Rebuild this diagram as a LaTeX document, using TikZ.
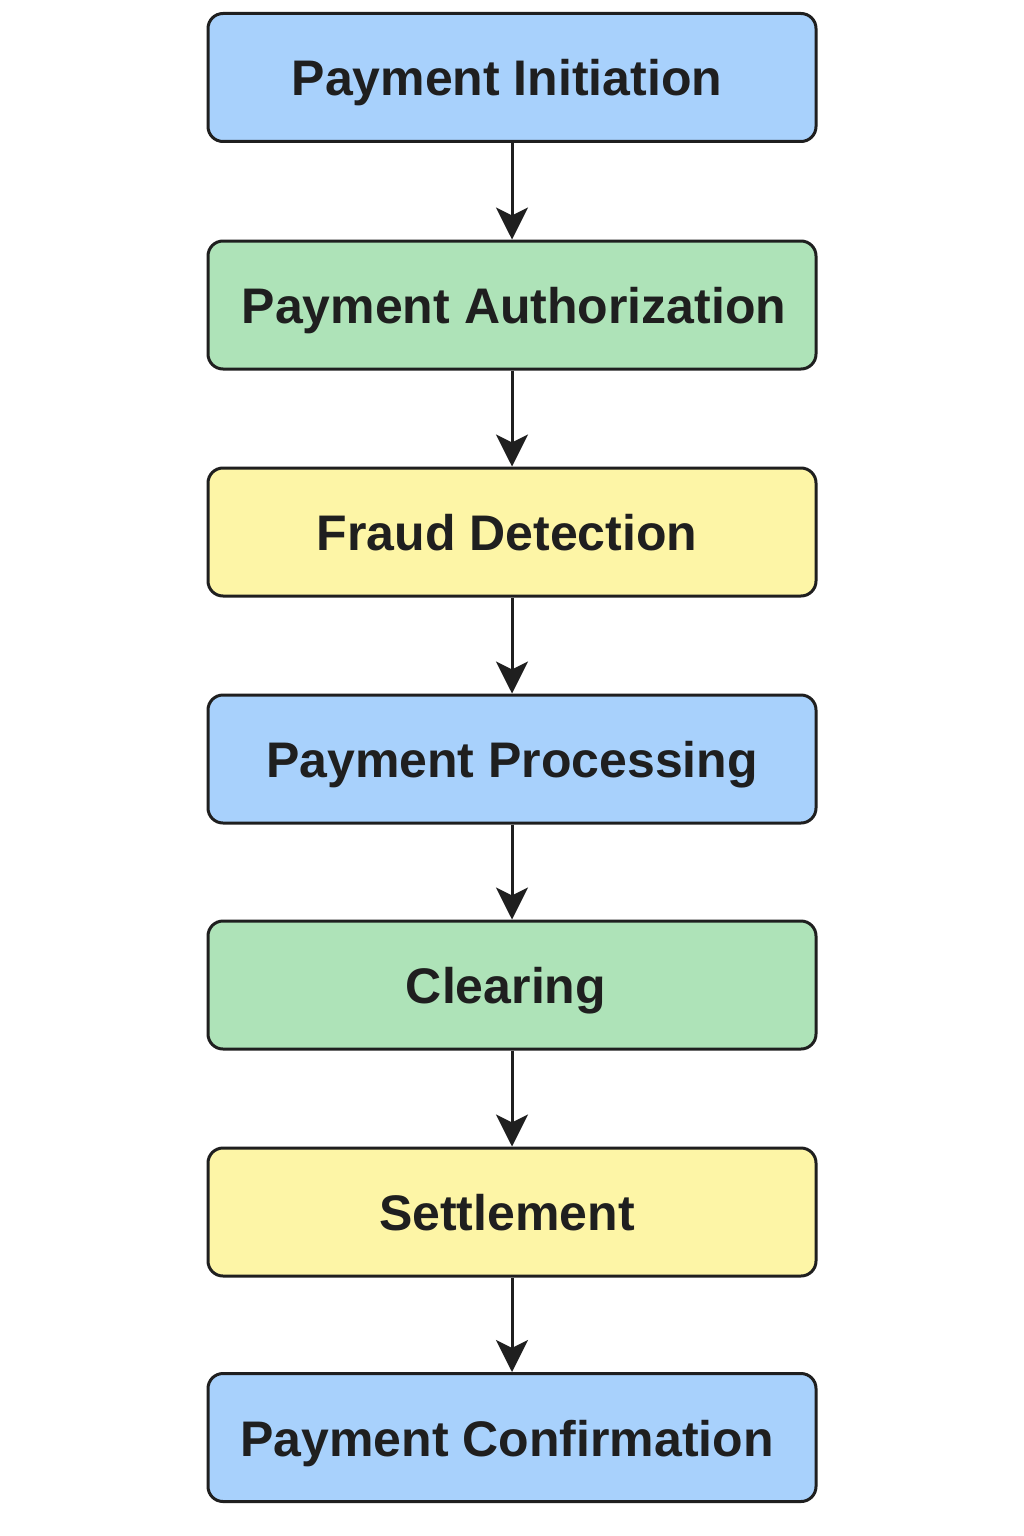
\documentclass[tikz,border=0pt]{standalone}
\usepackage{fontspec}
\setmainfont{Liberation Sans}
\usetikzlibrary{arrows.meta}
\definecolor{bluefill}{HTML}{A8D1FC}
\definecolor{greenfill}{HTML}{AEE3B8}
\definecolor{yellowfill}{HTML}{FDF5A6}
\definecolor{ink}{HTML}{1F1F1F}
\begin{document}
\begin{tikzpicture}[x=1pt,y=-1pt,
  stagebox/.style={draw=ink, line width=3pt, rounded corners=15pt,
    minimum width=608pt, minimum height=128pt, inner sep=0pt,
    text height=37pt, text depth=0pt,
    font=\fontsize{50}{58}\selectfont\bfseries, text=ink},
  flow/.style={draw=ink, line width=3pt, -{Stealth[length=32pt,width=32pt,inset=8pt]}}]
\useasboundingbox (0,0) rectangle (1024,1536);
\fill[white] (0,0) rectangle (1024,1536);
\node[stagebox, fill=bluefill]   (n1) at (512,77.5)   {\hspace*{-10pt}Payment Initiation};
\node[stagebox, fill=greenfill]  (n2) at (512,305)  {\hspace*{4pt}Payment Authorization};
\node[stagebox, fill=yellowfill] (n3) at (512,532)  {\hspace*{-10pt}Fraud Detection};
\node[stagebox, fill=bluefill]   (n4) at (512,759)  {Payment Processing};
\node[stagebox, fill=greenfill]  (n5) at (512,985)  {\hspace*{-12pt}Clearing};
\node[stagebox, fill=yellowfill] (n6) at (512,1212) {\hspace*{-10pt}Settlement};
\node[stagebox, fill=bluefill]   (n7) at (512,1437.5) {\hspace*{-10pt}Payment Confirmation};
\foreach \a/\b in {n1/n2,n2/n3,n3/n4,n4/n5,n5/n6,n6/n7}
  \draw[flow] (\a) -- (\b);
\end{tikzpicture}
\end{document}
